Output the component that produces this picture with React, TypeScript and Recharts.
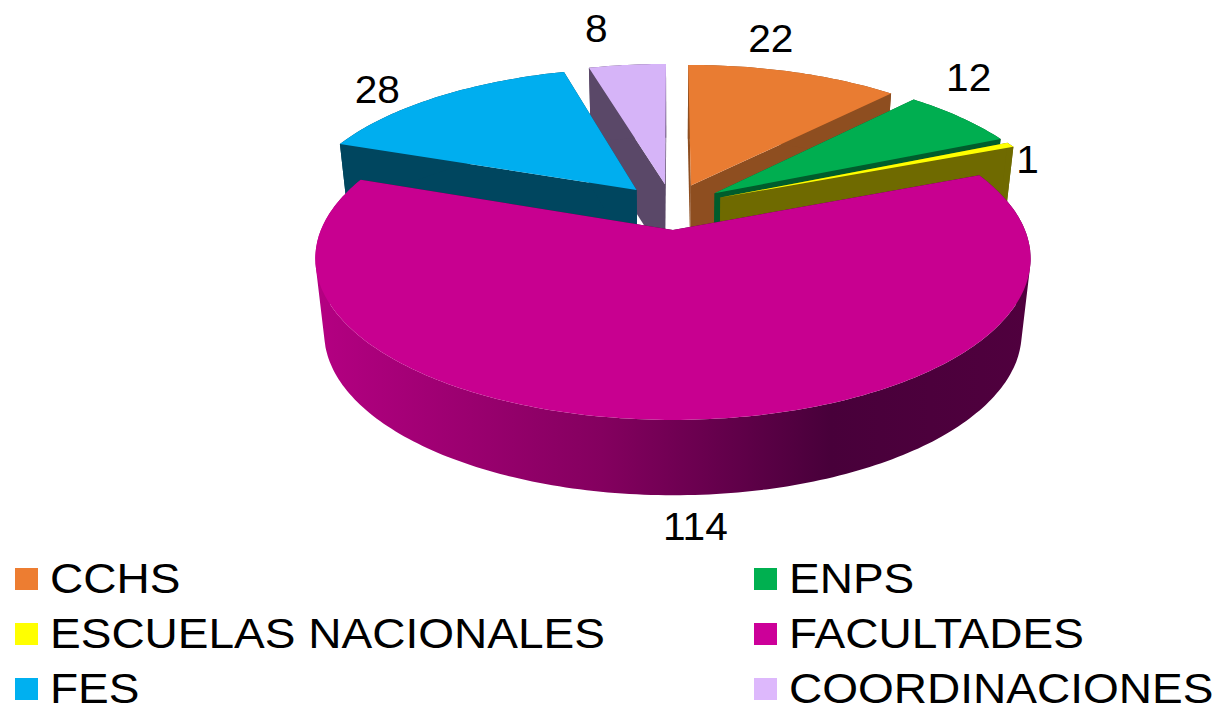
import React from 'react';
import { PieChart, Pie, Legend } from 'recharts';

const categories = ['CCHS', 'ENPS', 'ESCUELAS NACIONALES', 'FACULTADES', 'FES', 'COORDINACIONES'];
const values = [22, 12, 1, 114, 28, 8];
const topColors = ['#E97C32', '#00AE50', '#FFFF00', '#C80090', '#00AEEF', '#D6B4F8'];
const wallColors = ['#8E4E20', '#005C2C', '#6F6A00', 'url(#rimFacultades)', '#00465F', '#5A4868'];
const swatchColors = ['#ED7D31', '#00B050', '#FFFF00', '#CC0099', '#00B0F0', '#DDB8FC'];
// back slices first, the big front slice last
const drawOrder = ['COORDINACIONES', 'FES', 'CCHS', 'ENPS', 'ESCUELAS NACIONALES', 'FACULTADES'];
// label offset from the middle of the slice's outer edge
const labelOffsets: Record<string, number[]> = {
  CCHS: [-23, -34],
  ENPS: [8, -40],
  'ESCUELAS NACIONALES': [17, 15],
  FACULTADES: [15, 107],
  FES: [-60, -7],
  COORDINACIONES: [-31, -36],
};

const table = categories.map((name, i) => ({
  name,
  value: values[i],
  top: topColors[i],
  wall: wallColors[i],
}));

// fake 3D: tilted disc with a bit of perspective, every slice pulled out from the centre
const TILT = 0.444;
const PERSPECTIVE = 0.177;
const DEPTH = 74.5;
const LOW_X = 0.975;
const LOW_Y = 0.92;
const EXPLODE = 0.155;
const DISC_SHIFT = -0.155;
const RAD = Math.PI / 180;

const project = (cx: number, cy: number, r: number, u: number, v: number, down: boolean) => {
  const s = 1 / (1 - PERSPECTIVE * v);
  const x = r * u * s;
  const y = r * TILT * v * s;
  return down ? [cx + x * LOW_X, cy + y * LOW_Y + DEPTH * s] : [cx + x, cy + y];
};

const apexOf = (mid: number) => [EXPLODE * Math.cos(mid * RAD), DISC_SHIFT - EXPLODE * Math.sin(mid * RAD)];

const toPath = (pts: number[][]) =>
  'M' + pts.map((p) => p[0].toFixed(1) + ',' + p[1].toFixed(1)).join('L') + 'Z';

// side wall as one quad per step, all wound the same way so they fill as a union
const rimPath = (top: number[][], low: number[][]) => {
  let d = '';
  for (let i = 0; i < top.length - 1; i++) {
    const quad = [top[i], top[i + 1], low[i + 1], low[i]];
    let area = 0;
    quad.forEach((p, k) => {
      const q = quad[(k + 1) % 4];
      area += p[0] * q[1] - q[0] * p[1];
    });
    d += toPath(area < 0 ? [...quad].reverse() : quad);
  }
  return d;
};

const Slice3D = (props: any) => {
  const { cx, cy, outerRadius: r, startAngle, endAngle, payload } = props;
  const mid = (startAngle + endAngle) / 2;
  const [au, av] = apexOf(mid);
  const steps = Math.max(2, Math.ceil(Math.abs(startAngle - endAngle)));
  const edge = (down: boolean) => {
    const pts = [];
    for (let i = 0; i <= steps; i++) {
      const a = (startAngle + ((endAngle - startAngle) * i) / steps) * RAD;
      pts.push(project(cx, cy, r, au + Math.cos(a), av - Math.sin(a), down));
    }
    return pts;
  };
  const topEdge = edge(false);
  const lowEdge = edge(true);
  const apexTop = project(cx, cy, r, au, av, false);
  const apexLow = project(cx, cy, r, au, av, true);
  const last = topEdge.length - 1;
  const flat = payload.name === 'FACULTADES' ? '#4A003C' : payload.wall;
  return (
    <g>
      <path d={toPath([apexTop, topEdge[0], lowEdge[0], apexLow])} fill={flat} />
      <path d={toPath([apexTop, topEdge[last], lowEdge[last], apexLow])} fill={flat} />
      <path d={rimPath(topEdge, lowEdge)} fill={payload.wall} />
      <path d={toPath([apexTop, ...topEdge])} fill={payload.top} />
    </g>
  );
};

const renderLabel = (props: any) => {
  const { cx, cy, outerRadius: r, midAngle, value, name } = props;
  const [au, av] = apexOf(midAngle);
  const a = midAngle * RAD;
  const [x, y] = project(cx, cy, r, au + Math.cos(a), av - Math.sin(a), false);
  const [dx, dy] = labelOffsets[name];
  return (
    <text
      transform={`translate(${x + dx},${y + dy}) scale(1.07,1)`}
      textAnchor="middle"
      dominantBaseline="central"
      fontFamily="'Liberation Sans', Arial, sans-serif"
      fontSize={38}
      fill="#000"
    >
      {value}
    </text>
  );
};

const renderLegend = () => (
  <div style={{ position: 'relative', width: 1218, height: 147, fontFamily: "'Liberation Sans', Arial, sans-serif" }}>
    {categories.map((name, i) => (
      <div
        key={name}
        style={{ position: 'absolute', left: i % 2 ? 754 : 15, top: Math.floor(i / 2) * 55, height: 36 }}
      >
        <span
          style={{
            position: 'absolute',
            left: 0,
            top: 10,
            width: 23,
            height: 22,
            background: swatchColors[i],
          }}
        />
        <span
          style={{
            position: 'absolute',
            left: 35,
            top: 4,
            fontSize: 43,
            lineHeight: '32px',
            whiteSpace: 'nowrap',
            color: '#000',
            transform: 'scaleX(1.07)',
            transformOrigin: 'left center',
          }}
        >
          {name}
        </span>
      </div>
    ))}
  </div>
);

export default function App() {
  return (
    <div style={{ position: 'absolute', left: 0, top: 0, width: 1218, height: 705, background: '#fff', overflow: 'hidden' }}>
      <PieChart width={1218} height={705} margin={{ top: 0, right: 0, bottom: 0, left: 0 }}>
        <defs>
          <linearGradient id="rimFacultades" x1="0" y1="0" x2="1" y2="0">
            <stop offset="0" stopColor="#B40082" />
            <stop offset="0.4" stopColor="#84005F" />
            <stop offset="0.72" stopColor="#48003A" />
            <stop offset="1" stopColor="#50003E" />
          </linearGradient>
        </defs>
        {drawOrder.map((layer, i) => (
          <Pie
            key={layer}
            data={table}
            dataKey="value"
            nameKey="name"
            cx={672}
            cy={230}
            outerRadius={352}
            startAngle={90}
            endAngle={-270}
            stroke="none"
            isAnimationActive={false}
            shape={(p: any) => (p.payload.name === layer ? <Slice3D {...p} /> : <g />)}
            label={i === drawOrder.length - 1 ? renderLabel : false}
            labelLine={false}
          />
        ))}
        <Legend
          content={renderLegend}
          verticalAlign="bottom"
          wrapperStyle={{ position: 'absolute', left: 0, top: 558, bottom: 'auto', width: 1218 }}
        />
      </PieChart>
    </div>
  );
}
